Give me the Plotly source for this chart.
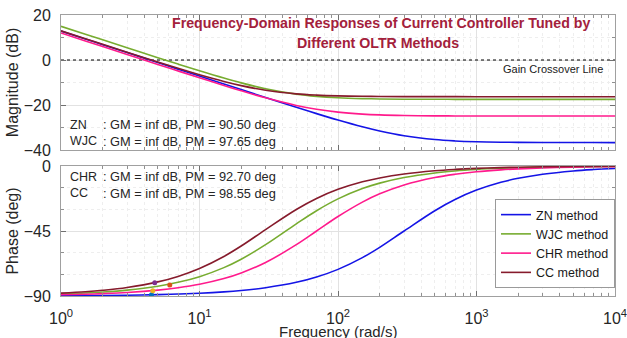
import plotly.graph_objects as go

# Frequency grid (rad/s) used for every series
freq = [1, 1.5, 2, 3, 5, 7, 10, 15, 20, 30, 50, 70, 100, 150, 200, 300,
        500, 700, 1000, 1500, 2000, 3000, 5000, 7000, 10000]

# Magnitude (dB) of each tuned PI current controller
mag_zn = [12.84, 9.32, 6.82, 3.30, -1.13, -4.06, -7.15, -10.67, -13.16, -16.66,
          -21.02, -23.83, -26.70, -29.71, -31.58, -33.69, -35.36, -35.97, -36.33,
          -36.53, -36.60, -36.66, -36.68, -36.69, -36.70]
mag_wjc = [14.97, 11.45, 8.95, 5.44, 1.05, -1.82, -4.80, -8.04, -10.17, -12.79,
           -15.18, -16.16, -16.79, -17.17, -17.31, -17.42, -17.47, -17.48, -17.49,
           -17.50, -17.50, -17.50, -17.50, -17.50, -17.50]
mag_chr = [12.00, 8.48, 5.99, 2.47, -1.96, -4.86, -7.91, -11.32, -13.68, -16.81,
           -20.19, -21.89, -23.17, -24.04, -24.40, -24.67, -24.82, -24.86, -24.88,
           -24.89, -24.90, -24.90, -24.90, -24.90, -24.90]
mag_cc = [12.95, 9.44, 6.95, 3.45, -0.90, -3.71, -6.56, -9.54, -11.38, -13.43,
          -15.04, -15.61, -15.95, -16.14, -16.21, -16.26, -16.29, -16.29, -16.30,
          -16.30, -16.30, -16.30, -16.30, -16.30, -16.30]

# Phase (deg)
ph_zn = [-89.81, -89.71, -89.62, -89.43, -89.05, -88.66, -88.09, -87.14, -86.19,
         -84.29, -80.54, -76.87, -71.57, -63.43, -56.31, -45.00, -30.96, -23.20,
         -16.70, -11.31, -8.53, -5.71, -3.43, -2.45, -1.72]
ph_wjc = [-88.64, -87.95, -87.27, -85.91, -83.21, -80.54, -76.61, -70.35, -64.54,
          -54.46, -40.03, -30.96, -22.78, -15.64, -11.86, -7.97, -4.80, -3.43,
          -2.41, -1.60, -1.20, -0.80, -0.48, -0.34, -0.24]
ph_chr = [-89.18, -88.77, -88.36, -87.55, -85.91, -84.29, -81.87, -77.91, -74.05,
          -66.80, -54.46, -45.00, -34.99, -25.02, -19.29, -13.13, -7.97, -5.71,
          -4.00, -2.67, -2.00, -1.34, -0.80, -0.57, -0.40]
ph_cc = [-88.03, -87.04, -86.05, -84.09, -80.22, -76.43, -70.97, -62.65, -55.41,
         -44.03, -30.11, -22.50, -16.17, -10.94, -8.25, -5.52, -3.32, -2.37,
         -1.66, -1.11, -0.83, -0.55, -0.33, -0.24, -0.17]

# Gain-crossover points marked on the phase curves
wc = [4.5, 6.1, 4.6, 4.75]
ph_wc = [-89.2, -82.4, -86.4, -80.8]

methods = ["ZN", "WJC", "CHR", "CC"]
gm_text = ["inf", "inf", "inf", "inf"]
pm_text = ["90.50", "97.65", "92.70", "98.55"]

line_colors = ["#1414E6", "#77AC30", "#FF1A8C", "#861B2C"]
marker_colors = ["#0072BD", "#D95319", "#EDB120", "#7E2F8E"]

mags = [mag_zn, mag_wjc, mag_chr, mag_cc]
phases = [ph_zn, ph_wjc, ph_chr, ph_cc]

FONT = "Liberation Sans, Arial, sans-serif"

fig = go.Figure()

# Gain crossover line at 0 dB
fig.add_trace(go.Scatter(x=[freq[0], freq[-1]], y=[0, 0], mode="lines",
                         line=dict(color="#000000", width=1, dash="dot"),
                         showlegend=False, hoverinfo="skip",
                         xaxis="x", yaxis="y"))

for name, m, c in zip(methods, mags, line_colors):
    fig.add_trace(go.Scatter(x=freq, y=m, mode="lines", name=name + " method",
                             line=dict(color=c, width=1.6, shape="spline"),
                             showlegend=False, xaxis="x", yaxis="y"))
for name, p, c in zip(methods, phases, line_colors):
    fig.add_trace(go.Scatter(x=freq, y=p, mode="lines", name=name + " method",
                             line=dict(color=c, width=1.6, shape="spline"),
                             showlegend=True, xaxis="x2", yaxis="y2"))

for w, ph, mc in zip(wc, ph_wc, marker_colors):
    fig.add_trace(go.Scatter(x=[w], y=[ph], mode="markers",
                             marker=dict(color=mc, size=5),
                             showlegend=False, xaxis="x2", yaxis="y2"))

# Pixel geometry of the two panels
W, H = 627, 338
ML, MR, MT, MB = 61, 12, 15, 42
PW, PH = W - ML - MR, H - MT - MB
TOP0, TOP1 = 15, 150      # magnitude panel (px from top)
BOT0, BOT1 = 166, 296     # phase panel


def py(ypx):
    return (H - MB - ypx) / PH


def px(xpx):
    return (xpx - ML) / PW


minor_x = [d * 10 ** e for e in range(4) for d in range(2, 10)]
grid_major = "#E2E2E2"
grid_minor = "#EEEEEE"
axis_line = "#A0A0A0"
tick_font = dict(family=FONT, size=16, color="#262626")

xcommon = dict(type="log", range=[0, 4], showline=True, mirror="allticks",
               linecolor=axis_line, linewidth=1, ticks="inside", ticklen=5,
               tickcolor="#707070", showgrid=True, gridcolor=grid_major,
               zeroline=False, automargin=False, ticklabeloverflow="allow",
               tickvals=[1, 10, 100, 1000, 10000],
               minor=dict(tickmode="array", tickvals=minor_x, ticks="inside",
                          ticklen=3, tickcolor="#909090", showgrid=True,
                          gridcolor=grid_minor, griddash="dot"))

fig.update_layout(
    width=W, height=H,
    margin=dict(l=ML, r=MR, t=MT, b=MB),
    paper_bgcolor="white", plot_bgcolor="white",
    font=dict(family=FONT, color="#262626"),
    xaxis=dict(xcommon, anchor="y", domain=[0, 1], showticklabels=False),
    yaxis=dict(range=[-40, 20], domain=[py(TOP1), py(TOP0)], anchor="x",
               tickvals=[-40, -20, 0, 20], showline=True, mirror="allticks",
               linecolor=axis_line, ticks="inside", ticklen=5,
               tickcolor="#707070", showgrid=True, gridcolor=grid_major,
               zeroline=False, automargin=False, tickfont=tick_font,
               ticklabelstandoff=6,
               minor=dict(dtick=10, ticks="inside", ticklen=3,
                          tickcolor="#909090", showgrid=True,
                          gridcolor=grid_minor, griddash="dot"),
               title=dict(text="Magnitude (dB)", standoff=1,
                          font=dict(family=FONT, size=16, color="#262626"))),
    xaxis2=dict(xcommon, anchor="y2", domain=[0, 1],
                ticktext=["10<sup>0</sup>", "10<sup>1</sup>", "10<sup>2</sup>",
                          "10<sup>3</sup>", "10<sup>4</sup>"],
                tickfont=tick_font, ticklabelstandoff=8),
    yaxis2=dict(range=[-90, 0], domain=[py(BOT1), py(BOT0)], anchor="x2",
                tickvals=[-90, -45, 0], showline=True, mirror="allticks",
                linecolor=axis_line, ticks="inside", ticklen=5,
                tickcolor="#707070", showgrid=True, gridcolor=grid_major,
                zeroline=False, automargin=False, tickfont=tick_font,
                ticklabelstandoff=6,
                minor=dict(dtick=15, ticks="inside", ticklen=3,
                           tickcolor="#909090", showgrid=True,
                           gridcolor=grid_minor, griddash="dot"),
                title=dict(text="Phase (deg)", standoff=1,
                           font=dict(family=FONT, size=16, color="#262626"))),
    legend=dict(x=1, y=py(288), xanchor="right", yanchor="bottom",
                bgcolor="white", bordercolor="#9A9A9A", borderwidth=1,
                font=dict(family=FONT, size=12.5, color="#1A1A1A"),
                tracegroupgap=0, itemwidth=30),
    showlegend=True,
)

# Frequency axis title, sitting at the lower edge of the figure
fig.add_annotation(text="Frequency (rad/s)", xref="paper", yref="paper",
                   x=0.5, y=py(331), xanchor="center", yanchor="middle",
                   showarrow=False,
                   font=dict(family=FONT, size=15, color="#262626"))

title_color = "#A3213C"
fig.add_annotation(text="<b>Frequency-Domain Responses of Current Controller Tuned by</b>",
                   xref="paper", yref="paper", x=px(381), y=py(23),
                   xanchor="center", yanchor="middle", showarrow=False,
                   font=dict(family=FONT, size=14.2, color=title_color))
fig.add_annotation(text="<b>Different OLTR Methods</b>",
                   xref="paper", yref="paper", x=px(378), y=py(43),
                   xanchor="center", yanchor="middle", showarrow=False,
                   font=dict(family=FONT, size=14.2, color=title_color))
fig.add_annotation(text="Gain Crossover Line", xref="paper", yref="paper",
                   x=px(605), y=py(69), xanchor="right", yanchor="middle",
                   showarrow=False,
                   font=dict(family=FONT, size=11, color="#1A1A1A"))

# Stability margins of each loop
rows_y = [124.5, 141, 177, 193]
for name, gm, pm, ypos in zip(methods, gm_text, pm_text, rows_y):
    fig.add_annotation(text=name, xref="paper", yref="paper", x=px(68),
                       y=py(ypos), xanchor="left", yanchor="middle",
                       showarrow=False,
                       font=dict(family=FONT, size=12.5, color="#262626"))
    fig.add_annotation(text=": GM = %s dB, PM = %s deg" % (gm, pm),
                       xref="paper", yref="paper", x=px(101), y=py(ypos),
                       xanchor="left", yanchor="middle", showarrow=False,
                       font=dict(family=FONT, size=12.8, color="#262626"))

fig.write_html("out.html")
